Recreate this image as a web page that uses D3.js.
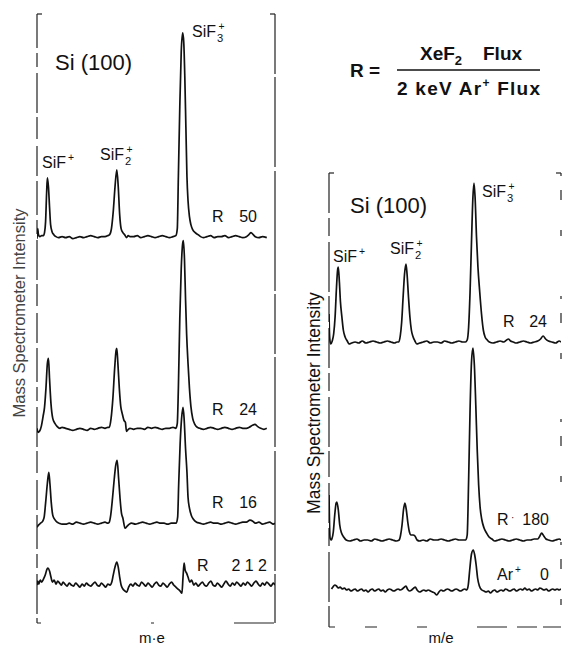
<!DOCTYPE html>
<html>
<head>
<meta charset="utf-8">
<script src="https://cdn.jsdelivr.net/npm/d3@7"></script>
<style>
  html, body { margin: 0; padding: 0; background: #fff; }
  svg { display: block; font-family: "Liberation Sans", Arial, Helvetica, sans-serif; }
  text { fill: #111; white-space: pre; }
</style>
</head>
<body>
<svg id="chart" width="563" height="649"></svg>
<script>
// ---- Spectra: [m/e, intensity above the trace's own baseline] ----
const leftR50 = [
  [44.0,-2],[44.2,8],[44.4,2],[44.8,0],[45.3,1],[45.8,1],[46.1,4],[46.4,15],[46.7,45],[46.9,59],[47.2,50],[47.5,30],[47.8,12],[48.2,5],[48.7,2],[49.3,0],
  [50,-1],[51,0],[52,-1],[53,0],[54,-2],[55,-1],[56,0],[57,-1],[58,0],[59,1],[60,0],[61,-1],[62,0],[63,0],[63.8,1],
  [64.3,2],[64.8,8],[65.3,25],[65.8,50],[66.3,67],[66.7,50],[67.1,22],[67.5,8],[68.0,4],[68.5,2],[69,-1],[69.5,1],[70,0],
  [71,0],[72,1],[73,-1],[74,0],[75,1],[76,0],[77,-1],[78,0],[79,1],[80,0],[81,-1],[82,0],[82.8,1],
  [83.2,8],[83.5,60],[83.9,130],[84.3,185],[84.7,204],[85.0,195],[85.3,160],[85.6,110],[85.9,60],[86.2,36],[86.6,20],[87.0,12],[87.5,7],[88.2,4],[89,2],[89.7,0],
  [90.5,-1],[91.5,0],[92.5,1],[93.5,-1],[94.5,0],[95.5,0],[96.5,1],[97.5,-1],[98.5,0],[99.5,1],[100.5,0],[101.5,-1],[102.5,0],
  [103.2,2],[103.8,4],[104.4,2],[105,0],[106,-1],[107,0],[108.2,-1]
];
const leftR24 = [
  [44.0,0],[44.3,-4],[44.7,-3],[45.2,2],[45.7,12],[46.1,21],[46.5,40],[46.9,65],[47.2,70],[47.5,50],[47.9,25],[48.4,10],[49.0,5],[49.6,2],[50.4,0],
  [51,1],[52,0],[53,-1],[54,-2],[55,-1],[56,0],[57,-1],[58,-2],[59,0],[60,-1],[61,0],[62,1],[63,0],[63.8,1],
  [64.2,1],[64.7,10],[65.2,30],[65.7,60],[66.1,78],[66.3,80],[66.6,65],[67.0,40],[67.4,22],[67.8,15],[68.3,8],[68.7,6],[69.0,-3],[69.5,-1],[70,0],
  [71,-1],[72,0],[73,0],[74,-1],[75,1],[76,0],[77,1],[78,0],[79,-1],[80,0],[81,0],[82,1],[82.8,0],
  [83.2,5],[83.5,40],[83.9,110],[84.3,160],[84.7,185],[84.9,188],[85.2,170],[85.5,130],[85.8,95],[86.2,65],[86.6,40],[87.0,22],[87.5,10],[88.1,4],[88.8,1],
  [89.5,0],[90.5,-1],[91.5,0],[92.5,1],[93.5,0],[94.5,-1],[95.5,0],[96.5,1],[97.5,0],[98.5,-1],[99.5,0],[100.5,1],[101.5,0],[102.5,0],
  [103.3,1],[104.2,3],[104.9,4],[105.6,2],[106.5,0],[107.4,-1],[108.2,0]
];
const leftR16 = [
  [44.0,-4],[44.4,-2],[45.0,0],[45.6,2],[46.0,6],[46.4,20],[46.9,40],[47.3,51],[47.6,40],[48.0,20],[48.4,8],[48.9,4],[49.6,1],[50.2,0],
  [51,-1],[52,-1],[53,0],[54,-1],[55,1],[56,0],[57,-1],[58,0],[59,1],[60,0],[61,-1],[62,0],[63,1],[63.8,0],
  [64.2,1],[64.6,8],[65.1,25],[65.6,45],[66.0,58],[66.4,63],[66.8,45],[67.2,25],[67.6,10],[68.0,5],[68.6,-5],[69.2,-3],[69.8,-1],[70.4,0],
  [71.5,-1],[72.5,0],[73.5,1],[74.5,0],[75.5,-1],[76.5,0],[77.5,1],[78.5,0],[79.5,0],[80.5,-1],[81.5,0],[82.4,0],
  [82.9,0],[83.3,6],[83.6,40],[84.0,80],[84.4,105],[84.8,116],[85.1,105],[85.5,75],[85.9,51],[86.2,26],[86.6,15],[87.1,8],[87.7,4],[88.6,1],
  [89.5,0],[90.5,-1],[91.5,0],[92.5,1],[93.5,0],[94.5,0],[95.5,-1],[96.5,0],[97.5,1],[98.5,0],[99.5,-1],[100.5,0],[101.5,1],[102.5,1],
  [103.5,3],[104.3,2],[105,0],[106,1],[107,-1],[108,0],[109,1],[110,-1],[110.5,0]
];
const leftR212 = [
  [44.0,0],[44.2,4],[44.5,1],[44.9,5],[45.3,3],[45.8,6],[46.3,10],[46.8,16],[47.1,17],[47.5,14],[47.9,8],[48.3,3],[48.8,5],[49.3,1],[49.8,4],[50.3,2],
  [50.8,0],[51.3,3],[51.8,1],[52.4,-1],[53.0,2],[53.6,0],[54.2,-1],[54.8,2],[55.4,0],[56.0,-2],[56.6,1],[57.2,-1],[57.8,2],[58.4,0],[59.0,-1],[59.6,1],
  [60.2,3],[60.8,0],[61.4,-1],[62.0,2],[62.6,0],[63.2,-2],[63.8,1],[64.4,0],
  [64.9,3],[65.3,10],[65.8,18],[66.3,23],[66.7,18],[67.1,8],[67.5,0],[68.0,-4],[68.6,-6],[69.1,-7],[69.6,-2],
  [70.2,1],[70.8,-1],[71.4,2],[72.0,0],[72.6,-1],[73.2,3],[73.8,1],[74.4,-1],[75.0,2],[75.6,0],[76.2,-2],[76.8,1],[77.4,3],[78.0,0],[78.6,-1],[79.2,2],
  [79.8,0],[80.4,-2],[81.0,1],[81.6,3],[82.2,0],[82.8,-2],[83.4,-4],[84.0,-6],[84.5,-8],
  [84.8,8],[85.1,22],[85.4,15],[85.8,12],[86.2,8],[86.7,3],[87.2,5],[87.8,0],
  [88.4,2],[89.0,-1],[89.6,1],[90.2,3],[90.8,0],[91.4,-1],[92.0,2],[92.6,4],[93.2,0],[93.8,-1],[94.4,2],[95.0,0],[95.6,-2],[96.2,1],[96.8,4],[97.4,1],
  [98.0,-1],[98.6,2],[99.2,0],[99.8,3],[100.4,1],[101.0,-1],[101.6,2],[102.2,0],[102.8,3],[103.4,1],[104.0,-1],[104.6,2],[105.2,4],[105.8,1],[106.4,-1],
  [107.0,2],[107.6,0],[108.2,3],[108.8,1],[109.4,-1],[110.0,2],[110.5,0]
];
const rightR24 = [
  [44.7,28],[44.8,12],[44.95,2],[45.2,-2],[45.6,1],[46.0,8],[46.4,25],[46.8,55],[47.1,72],[47.3,75],[47.6,60],[47.9,40],[48.3,25],[48.7,12],[49.2,5],[49.8,1],[50.3,-2],
  [51,-1],[52,0],[53,-1],[54,1],[55,-1],[56,0],[57,1],[58,0],[59,-1],[60,0],[61,1],[62,0],[63,-1],[63.7,0],
  [64.2,0],[64.6,6],[65.0,20],[65.4,45],[65.8,68],[66.2,78],[66.5,68],[66.9,45],[67.3,25],[67.7,12],[68.2,5],[68.7,1],[69.2,-2],
  [70,-1],[71,0],[72,1],[73,-1],[74,0],[75,0],[76,-1],[77,1],[78,0],[79,-1],[80,0],[81,1],[82,0],[82.8,0],
  [83.3,2],[83.7,15],[84.1,50],[84.5,100],[84.9,145],[85.2,159],[85.5,145],[85.9,105],[86.3,75],[86.8,50],[87.3,28],[87.8,12],[88.3,5],[88.9,2],[89.5,0],
  [90.5,-1],[91.5,0],[92.5,1],[93.5,0],[94.3,2],[94.8,3],[95.4,1],[96.2,0],[97,-1],[98,0],[99,1],[100,0],[101,-1],[102,0],[103,1],
  [103.8,3],[104.5,6],[105.2,3],[106,1],[107,0],[108,-1],[109,1],[109.5,0]
];
const rightR180 = [
  [44.7,45],[44.85,15],[45.0,2],[45.3,0],[45.5,1],[45.9,8],[46.3,25],[46.7,37],[46.9,38],[47.3,30],[47.7,15],[48.2,7],[48.8,3],[49.5,0],
  [50.5,-1],[51.5,0],[52.5,1],[53.5,-1],[54.5,0],[55.5,0],[56.5,-1],[57.5,1],[58.5,0],[59.5,-1],[60.5,0],[61.5,1],[62.5,0],[63.5,-1],
  [64.3,0],[64.7,5],[65.1,15],[65.5,30],[65.9,37],[66.3,30],[66.7,18],[67.1,9],[67.6,5],[68.2,5],[68.7,4],[69.3,0],
  [70,-1],[71,0],[72,-1],[73,1],[74,0],[75,0],[76,1],[77,0],[78,-1],[79,0],[80,1],[81,0],[82,0],
  [82.9,0],[83.3,5],[83.7,60],[84.1,130],[84.5,178],[84.9,192],[85.3,175],[85.7,135],[86.1,90],[86.5,55],[86.9,33],[87.4,20],[88.0,12],[88.7,7],[89.4,3],[90.2,1],
  [91,-1],[92,0],[93,1],[94,0],[95,-1],[96,0],[97,1],[98,0],[99,-1],[100,0],[101,0],[102,1],[103,1],
  [103.6,4],[104.1,7],[104.7,4],[105.3,1],[106,0],[107,-1],[108,0],[109,1],[109.5,0]
];
const rightAr = [
  [45.4,1],[45.8,3],[46.3,5],[46.8,4],[47.3,2],[47.8,3],[48.4,1],[49.0,2],[49.6,0],[50.2,1],[50.8,-1],[51.4,0],[52.0,1],[52.6,-1],[53.2,0],[53.8,1],
  [54.4,-1],[55.0,0],[55.6,-2],[56.2,0],[56.8,1],[57.4,-1],[58.0,0],[58.6,1],[59.2,-1],[59.8,0],[60.4,-2],[61.0,0],[61.6,1],[62.2,0],[62.8,-1],[63.4,0],
  [64.0,1],[64.6,0],[65.2,1],[65.8,3],[66.2,4],[66.6,1],[67.2,-1],[67.8,0],[68.4,2],[68.8,3],[69.3,0],[70.0,-2],[70.6,-1],[71.2,0],[71.8,-1],[72.4,0],
  [73.0,-1],[73.6,-2],[74.2,-3],[74.8,-5],[75.4,-2],[76.0,0],[76.6,-1],[77.2,0],[77.8,1],[78.4,0],[79.0,-1],[79.6,0],[80.2,1],[80.8,0],[81.4,-1],[82.0,0],
  [82.6,1],[83.2,0],[83.6,5],[84.0,20],[84.5,36],[85.0,40],[85.4,35],[85.8,25],[86.2,12],[86.7,4],[87.4,0],
  [88.0,-1],[88.6,-2],[89.2,-1],[89.8,-3],[90.4,-1],[91.0,0],[91.6,-2],[92.2,-1],[92.8,0],[93.4,-1],[94.0,1],[94.6,0],[95.2,-1],[95.8,0],[96.4,1],
  [97.0,-1],[97.6,0],[98.2,1],[98.8,0],[99.4,2],[100.0,0],[100.6,1],[101.2,-1],[101.8,0],[102.4,1],[103.0,0],[103.6,2],[104.2,1],[104.8,0],[105.4,1],
  [106.0,-1],[106.6,0],[107.2,1],[107.8,0],[108.4,1],[109.0,0],[109.5,1]
];

// Trace names, stacking offsets (intensity units) and ratio labels
const leftNames   = ["R50", "R24", "R16", "R212"];
const leftOffsets = [387, 195, 100, 38];
const leftRatios  = ["50", "24", "16", "2 1 2"];
const rightNames   = ["R24", "R180", "Ar0"];
const rightOffsets = [285, 87, 37];
const rightRatios  = ["24", "180", "0"];

// m/e ranges and intensity ranges of the two panels
const leftMz = [44.0, 110.5],  leftIntensity = [0, 610];
const rightMz = [44.7, 109.5], rightIntensity = [0, 454];

const svg = d3.select("#chart");

// ---------- helpers ----------
function frame(g, x0, x1, y0, y1, dashes) {
  const s = g.append("g").attr("stroke", "#222").attr("fill", "none").attr("stroke-width", 1.2);
  s.append("line").attr("x1", x0).attr("x2", x0).attr("y1", y0).attr("y2", y1).attr("stroke-dasharray", dashes.left);
  s.append("line").attr("x1", x1).attr("x2", x1).attr("y1", y0).attr("y2", y1).attr("stroke-dasharray", dashes.right);
  s.append("line").attr("x1", x0).attr("x2", x1).attr("y1", y1).attr("y2", y1).attr("stroke-dasharray", dashes.bottom);
  s.append("line").attr("x1", x0).attr("x2", x0 + 5).attr("y1", y0).attr("y2", y0);
  s.append("line").attr("x1", x1 - 5).attr("x2", x1).attr("y1", y0).attr("y2", y0);
}

function ion(g, x, y, sub, size) {
  // SiF+, SiF2+, SiF3+ label with stacked sub/superscript
  const t = g.append("text").attr("x", x).attr("y", y).attr("font-size", size);
  t.append("tspan").text("SiF");
  if (sub) {
    t.append("tspan").attr("font-size", size * 0.7).attr("dy", size * 0.3).attr("dx", 1).text(sub);
    t.append("tspan").attr("font-size", size * 0.65).attr("dy", -size * 0.75).attr("dx", -size * 0.3).text("+");
  } else {
    t.append("tspan").attr("font-size", size * 0.65).attr("dy", -size * 0.45).attr("dx", 2).text("+");
  }
}

function drawPanel(cfg) {
  const g = svg.append("g");
  const x = d3.scaleLinear().domain(cfg.mz).range([cfg.x0, cfg.x1]);
  const y = d3.scaleLinear().domain(cfg.intensity).range([cfg.y1, cfg.y0]);

  const clipId = "clip-" + cfg.id;
  svg.append("clipPath").attr("id", clipId).append("rect")
    .attr("x", cfg.x0).attr("y", cfg.y0 - 2).attr("width", cfg.x1 - cfg.x0).attr("height", cfg.y1 - cfg.y0 + 2);

  frame(g, cfg.x0, cfg.x1, cfg.y0, cfg.y1, cfg.dashes);

  cfg.traces.forEach((tr, i) => {
    const off = cfg.offsets[i];
    const line = d3.line()
      .x(d => x(d[0]))
      .y(d => y(d[1] + off))
      .curve(d3.curveMonotoneX);
    g.append("path")
      .datum(tr)
      .attr("clip-path", `url(#${clipId})`)
      .attr("fill", "none")
      .attr("stroke", "#111")
      .attr("stroke-width", 1.7)
      .attr("stroke-linejoin", "round")
      .attr("d", line);
  });
  return { g, x, y };
}

// ---------- left panel ----------
const L = drawPanel({
  id: "left", x0: 37, x1: 275, y0: 14, y1: 623,
  mz: leftMz, intensity: leftIntensity,
  traces: [leftR50, leftR24, leftR16, leftR212], offsets: leftOffsets,
  dashes: { left: "34 5 14 6 40 4 22 7 30 5", right: "60 3 90 4 120 3", bottom: "4 110 3 80 40" }
});
// ---------- right panel ----------
const Rp = drawPanel({
  id: "right", x0: 329, x1: 561, y0: 173, y1: 627,
  mz: rightMz, intensity: rightIntensity,
  traces: [rightR24, rightR180, rightAr], offsets: rightOffsets,
  dashes: { left: "40 5 18 6 50 4 26 6", right: "3 14 10 30 6 60", bottom: "6 30 12 40 10 50 30 10 20" }
});

// ---------- ratio labels ----------
const lg = L.g;
leftNames.forEach((n, i) => {
  const base = L.y(leftOffsets[i]);
  const dy = [-15, -13, -15, -14][i];
  const rx = i === 3 ? 197 : 212;
  const endX = i === 3 ? 267 : 257;
  lg.append("text").attr("x", rx).attr("y", base + dy).attr("font-size", 16).text("R");
  lg.append("text").attr("x", endX).attr("y", base + dy).attr("font-size", 16)
    .attr("text-anchor", "end").text(leftRatios[i]);
});
const rg = Rp.g;
rightNames.forEach((n, i) => {
  const base = Rp.y(rightOffsets[i]);
  const dy = [-15, -15, -10][i];
  if (n === "Ar0") {
    const t = rg.append("text").attr("x", 497).attr("y", base + dy).attr("font-size", 16);
    t.append("tspan").text("Ar");
    t.append("tspan").attr("font-size", 10).attr("dy", -7).attr("dx", 2).text("+");
  } else {
    rg.append("text").attr("x", i === 0 ? 503 : 497).attr("y", base + dy).attr("font-size", 16).text("R");
    if (n === "R180") rg.append("text").attr("x", 511).attr("y", base + dy - 4).attr("font-size", 10).text("·");
  }
  rg.append("text").attr("x", i === 0 ? 547 : 549).attr("y", base + dy).attr("font-size", 16)
    .attr("text-anchor", "end").text(rightRatios[i]);
});

// ---------- ion labels ----------
ion(lg, 42, 168, null, 16);
ion(lg, 100, 160, "2", 16);
ion(lg, 192, 37, "3", 16);
ion(rg, 333, 262, null, 16);
ion(rg, 390, 254, "2", 16);
ion(rg, 482, 197, "3", 16);

// ---------- sample labels ----------
lg.append("text").attr("x", 55).attr("y", 70).attr("font-size", 22).text("Si (100)");
rg.append("text").attr("x", 350).attr("y", 213).attr("font-size", 22).text("Si (100)");

// ---------- axis titles ----------
svg.append("text").attr("transform", "translate(25,313) rotate(-90)")
  .attr("text-anchor", "middle").attr("font-size", 16.5).style("fill", "#444")
  .text("Mass Spectrometer Intensity");
svg.append("text").attr("transform", "translate(320,403) rotate(-90)")
  .attr("text-anchor", "middle").attr("font-size", 17.5)
  .text("Mass Spectrometer Intensity");
svg.append("text").attr("x", 152).attr("y", 643).attr("text-anchor", "middle").attr("font-size", 15).text("m·e");
svg.append("text").attr("x", 441).attr("y", 643).attr("text-anchor", "middle").attr("font-size", 15).text("m/e");

// ---------- flux ratio definition ----------
const f = svg.append("g").attr("font-weight", "bold").attr("font-size", 19);
f.append("text").attr("x", 350).attr("y", 77).text("R =");
const num = f.append("text").attr("x", 420).attr("y", 60);
num.append("tspan").text("XeF");
num.append("tspan").attr("font-size", 13).attr("dy", 5).text("2");
f.append("text").attr("x", 483).attr("y", 60).text("Flux");
f.append("line").attr("x1", 397).attr("x2", 540).attr("y1", 70).attr("y2", 70)
  .attr("stroke", "#111").attr("stroke-width", 1.6);
const den = f.append("text").attr("x", 397).attr("y", 95).attr("textLength", 143).attr("lengthAdjust", "spacing");
den.append("tspan").text("2 keV Ar");
den.append("tspan").attr("font-size", 12).attr("dy", -8).text("+");
den.append("tspan").attr("dy", 8).text(" Flux");
</script>
</body>
</html>
